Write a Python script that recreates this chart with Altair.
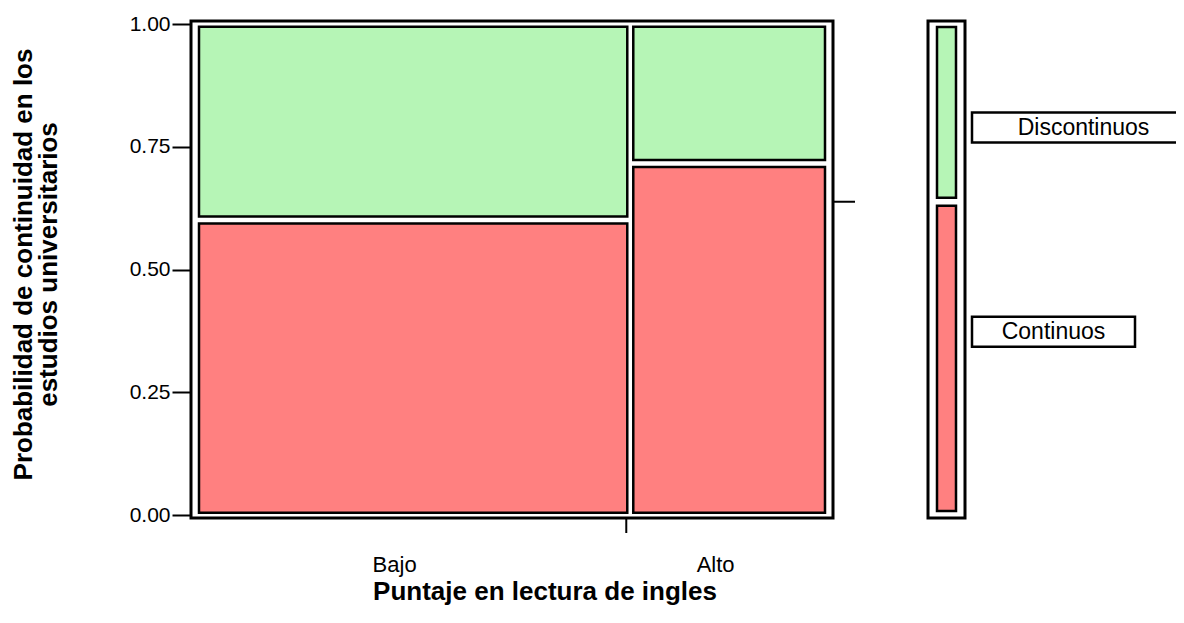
import altair as alt
import pandas as pd

# ---------------- data ----------------
groups = ["Bajo", "Alto"]
group_share = [0.678, 0.322]          # column widths of the mosaic
p_continuos = [0.601, 0.716]          # share of "Continuos" in each column
levels = ["Continuos", "Discontinuos"]
overall_continuos = 0.638             # marginal share of "Continuos"
y_tick_values = [0.0, 0.25, 0.5, 0.75, 1.0]
x_title = "Puntaje en lectura de ingles"
y_title = ["Probabilidad de continuidad en los", "estudios universitarios"]

# ---------------- layout / style ----------------
FONT = "Arial, Liberation Sans, sans-serif"
RED = "#ff8080"
GREEN = "#b6f5b6"
FRAME_W = 642      # pixels that one mosaic unit covers
PLOT_W = 985
PLOT_H = 491


def ux(px):
    return px / FRAME_W


def uy(px):
    return px / PLOT_H


X_SCALE = alt.Scale(domain=[0, PLOT_W / FRAME_W], nice=False, zero=False)
Y_SCALE = alt.Scale(domain=[0, 1], nice=False, zero=False)
Y_AXIS = alt.Axis(
    values=y_tick_values, format=".2f", domain=False, grid=False,
    tickSize=19, tickWidth=2, tickColor="black",
    labelFont=FONT, labelFontSize=21, labelColor="black", labelPadding=2,
    title=y_title, titleFont=FONT, titleFontSize=26, titleFontWeight="bold",
    titleColor="black", titlePadding=68, titleLineHeight=25, titleY=240,
)


def X(field):
    return alt.X(field, type="quantitative", scale=X_SCALE, axis=None)


def Y(field):
    return alt.Y(field, type="quantitative", scale=Y_SCALE, axis=Y_AXIS)


# ---------------- tables built from the arrays ----------------
cells = []
cum = 0.0
n = len(groups)
for i, (g, s, p) in enumerate(zip(groups, group_share, p_continuos)):
    left_in = 8 if i == 0 else 7
    right_in = 8 if i == n - 1 else -1
    x0 = cum + ux(left_in)
    x1 = cum + s - ux(right_in)
    cells.append(dict(level="Continuos", x0=x0, x1=x1, y0=uy(2.3), y1=p - uy(3.5)))
    cells.append(dict(level="Discontinuos", x0=x0, x1=x1, y0=p + uy(3.5), y1=1 - uy(2.7)))
    cum += s

# marginal bar
MX0, MX1 = ux(746), ux(765)
cells.append(dict(level="Continuos", x0=MX0, x1=MX1, y0=uy(4), y1=overall_continuos - uy(4)))
cells.append(dict(level="Discontinuos", x0=MX0, x1=MX1, y0=overall_continuos + uy(4), y1=1 - uy(3)))
cells_df = pd.DataFrame(cells)

frames_df = pd.DataFrame([
    dict(x0=0.0, x1=1.0, y0=-uy(3), y1=1 + uy(3)),
    dict(x0=ux(737), x1=ux(774), y0=-uy(3), y1=1 + uy(3)),
])

rules_df = pd.DataFrame([
    # boundary tick under the x axis
    dict(x0=group_share[0], x1=group_share[0], y0=-uy(3), y1=-uy(18)),
    # overall-share tick at the right of the mosaic
    dict(x0=1.0, x1=1.0 + ux(22), y0=overall_continuos, y1=overall_continuos),
])

# level label boxes
BOX_X0 = ux(781)
box_right = {"Discontinuos": ux(1004), "Continuos": ux(944)}
box_center_y = {"Discontinuos": 0.789, "Continuos": 0.373}
boxes = []
for lv in levels:
    cy = box_center_y[lv]
    boxes.append(dict(label=lv, x0=BOX_X0, x1=box_right[lv], y0=cy - uy(15), y1=cy + uy(15),
                      xc=(BOX_X0 + box_right[lv]) / 2, yc=cy))
boxes_df = pd.DataFrame(boxes)

# x category labels
xlab = []
cum = 0.0
for g, s in zip(groups, group_share):
    xlab.append(dict(label=g, x=cum + s / 2, y=-uy(50)))
    cum += s
xlab_df = pd.DataFrame(xlab)
xtitle_df = pd.DataFrame([dict(label=x_title, x=ux(354), y=-uy(77))])

# ---------------- layers ----------------
cell_layer = alt.Chart(cells_df).mark_rect(stroke="black", strokeWidth=2.5).encode(
    x=X("x0"), x2="x1", y=Y("y0"), y2="y1",
    color=alt.Color("level:N", scale=alt.Scale(domain=levels, range=[RED, GREEN]), legend=None),
)

frame_layer = alt.Chart(frames_df).mark_rect(fill=None, fillOpacity=0, stroke="black", strokeWidth=3).encode(
    x=X("x0"), x2="x1", y=Y("y0"), y2="y1",
)

rule_layer = alt.Chart(rules_df).mark_rule(color="black", strokeWidth=2).encode(
    x=X("x0"), x2="x1", y=Y("y0"), y2="y1",
)

box_layer = alt.Chart(boxes_df).mark_rect(fill="white", stroke="black", strokeWidth=2.5).encode(
    x=X("x0"), x2="x1", y=Y("y0"), y2="y1",
)

box_text = alt.Chart(boxes_df).mark_text(font=FONT, fontSize=23, color="black", align="center",
                                         baseline="middle").encode(
    x=X("xc"), y=Y("yc"), text="label:N",
)

xlab_layer = alt.Chart(xlab_df).mark_text(font=FONT, fontSize=22, color="black", align="center",
                                         baseline="middle", dx=-14).encode(
    x=X("x"), y=Y("y"), text="label:N",
)

xtitle_layer = alt.Chart(xtitle_df).mark_text(font=FONT, fontSize=26, fontWeight="bold", color="black",
                                             align="center", baseline="middle").encode(
    x=X("x"), y=Y("y"), text="label:N",
)

chart = alt.layer(
    cell_layer, frame_layer, rule_layer, box_layer, box_text, xlab_layer, xtitle_layer
).properties(
    width=PLOT_W, height=PLOT_H,
    autosize=alt.AutoSizeParams(type="none"),
    padding={"left": 183, "top": 16, "right": 0, "bottom": 95},
    background="white",
).configure_view(stroke=None)

chart.save("out.html", embed_options={"renderer": "svg", "actions": False})
